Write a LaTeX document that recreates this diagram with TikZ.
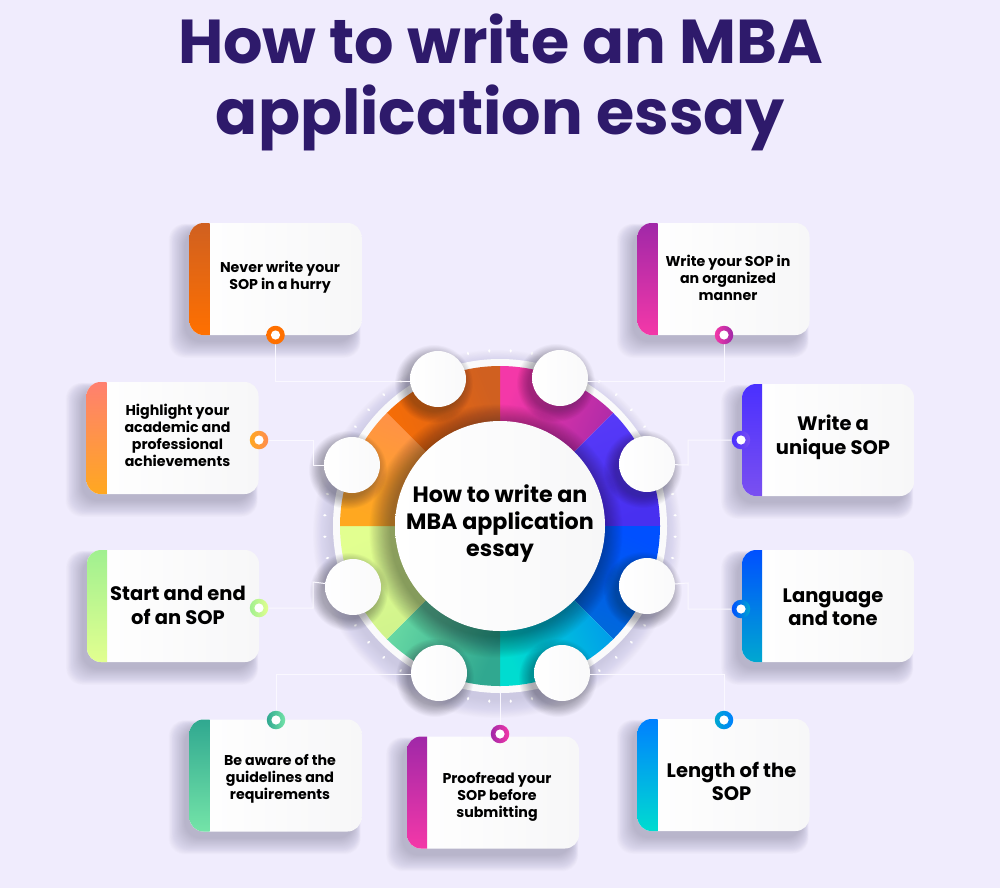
\documentclass[tikz,border=0pt]{standalone}
\usepackage{fontspec}
\setmainfont{Poppins}
\usetikzlibrary{calc}
\pgfdeclarelayer{bg}
\pgfdeclarelayer{conn}
\pgfsetlayers{bg,conn,main}
\definecolor{bgc}{HTML}{F0ECFD}
\definecolor{titlec}{HTML}{2E1A6B}
\definecolor{shc}{HTML}{5A5878}
\definecolor{cardr}{HTML}{F7F7F8}
\definecolor{linec}{HTML}{FAF8FF}
\definecolor{pinkA}{HTML}{F438A8}
\definecolor{purpA}{HTML}{A028A8}
\definecolor{vioA}{HTML}{5A3CFA}
\definecolor{vioB}{HTML}{4830F0}
\definecolor{bluA}{HTML}{0050FF}
\definecolor{bluB}{HTML}{0070D0}
\definecolor{skyA}{HTML}{0090F0}
\definecolor{tealA}{HTML}{00DCD0}
\definecolor{grnA}{HTML}{30A890}
\definecolor{grnB}{HTML}{74E4A8}
\definecolor{limA}{HTML}{CCF08C}
\definecolor{limB}{HTML}{E2FF90}
\definecolor{ambA}{HTML}{FFA820}
\definecolor{ambB}{HTML}{FF8C50}
\definecolor{orA}{HTML}{FF7000}
\definecolor{orB}{HTML}{D06020}
\definecolor{salA}{HTML}{FF8070}
\definecolor{limC}{HTML}{A0F090}
\definecolor{bluC}{HTML}{0080FF}
\definecolor{vioC}{HTML}{7A50F0}
\definecolor{vioD}{HTML}{4A30FF}
\definecolor{tealB}{HTML}{00A8D0}
\tikzset{
  titletxt/.style={font=\fontsize{62}{71}\selectfont\bfseries, text=titlec, align=center, inner sep=0pt},
  smalltxt/.style={font=\fontsize{14.2}{17}\selectfont\bfseries, text=black, align=center, inner sep=0pt},
  bigtxt/.style={font=\fontsize{19.5}{23.5}\selectfont\bfseries, text=black, align=center, inner sep=0pt},
  hubtxt/.style={font=\fontsize{22.2}{27}\selectfont\bfseries, text=black, align=center, inner sep=0pt},
  cardbox/.style={rectangle, rounded corners=14pt, minimum width=172pt, minimum height=112pt, inner sep=0pt, left color=white, right color=cardr},
  disc/.style={circle, minimum size=56pt, inner sep=0pt, left color=white, right color=cardr!70!white},
  pin/.style={circle, minimum size=18.5pt, inner sep=0pt},
  conn/.style={draw=linec, line width=1pt},
}
% name, cx, cy, strip top, strip bottom
\newcommand\cardat[5]{%
  \begin{pgfonlayer}{bg}
    \foreach \i in {1,...,24}{
      \fill[shc, opacity=.015, rounded corners=16pt]
        ({#2-86-4-.7*\i},{#3-56+8-.3*\i}) rectangle ({#2+86-8+.3*\i},{#3+56+6+.7*\i});
    }
  \end{pgfonlayer}
  \node[cardbox, path picture={\shade[sharp corners, top color=#4, bottom color=#5]
     (path picture bounding box.south west) rectangle ([xshift=20pt]path picture bounding box.north west);}]
     (#1) at (#2,#3) {};
}
% name, x, y, colour a, colour b
\newcommand\pinat[5]{%
  \node[pin, left color=#4, right color=#5] (#1) at (#2,#3) {};
  \fill[white] (#1.center) circle (4.6);
}
% name, x, y
\newcommand\discat[3]{%
  \begin{pgfonlayer}{bg}
    \foreach \i in {1,...,20}{
      \fill[black!60!shc, opacity=.02] ({#2-4},{#3+5}) circle ({27+.6*\i});
    }
  \end{pgfonlayer}
  \node[disc] (#1) at (#2,#3) {};
}
% start angle, colour a, colour b
\newcommand\wedgeat[3]{%
  \pgfmathsetmacro\sa{#1-202.5}
  \path[bottom color=#2, top color=#3, shading angle=\sa]
    (500,526) -- ++({-(#1)}:160) arc[start angle={-(#1)}, end angle={-(#1)+45}, radius=160] -- cycle;
}
\begin{document}
\begin{tikzpicture}[x=1pt,y=-1pt]
\useasboundingbox (0,0) rectangle (1000,888);
\begin{pgfonlayer}{bg}
  \fill[bgc] (0,0) rectangle (1000,888);
  % ring shadow
  \foreach \i in {1,...,24}{
    \fill[shc, opacity=.009] (497,534) circle ({165+.8*\i});
  }
  % ticks
  \foreach \c in {0,45,...,315}{
    \foreach \o in {-10.5,-3.5,3.5,10.5}{
      \fill[white, rotate around={-(\c+\o):(500,526)}] (675.5,526) ellipse (1.8 and 1.2);
    }
  }
  % white ring
  \fill[white!97!shc] (500,526) circle (167);
  % coloured wedges
  \wedgeat{90}{pinkA}{purpA}
  \wedgeat{45}{vioA}{vioB}
  \wedgeat{0}{bluA}{bluB}
  \wedgeat{-45}{skyA}{tealA}
  \wedgeat{-90}{grnA}{grnB}
  \wedgeat{-135}{limA}{limB}
  \wedgeat{180}{ambA}{ambB}
  \wedgeat{135}{orA}{orB}
  % hub shadow
  \foreach \i in {1,...,24}{
    \fill[black!70!shc, opacity=.02] (496,531) circle ({105+.9*\i});
  }
\end{pgfonlayer}

% hub
\node[circle, minimum size=210pt, inner sep=0pt, left color=white, right color=cardr] (hub) at (500,526) {};
\node[hubtxt] (hubt) at (500,524) {How to write an\\MBA application\\essay};

% title
\node[titletxt] (title) at (500.5,82) {How to write an MBA\\application essay};

% satellites
\discat{c1}{438}{379}
\discat{c2}{352}{465}
\discat{c3}{353}{587}
\discat{c4}{439}{673}
\discat{c5}{562}{673}
\discat{c6}{647}{586}
\discat{c7}{647}{464}
\discat{c8}{560}{378}

% cards
\cardat{k1}{275.5}{279}{orB}{orA}
\cardat{k2}{172.5}{438}{salA}{ambA}
\cardat{k3}{173}{606}{limC}{limB}
\cardat{k4}{275.5}{775.5}{grnA}{grnB}
\cardat{k5}{493}{792.5}{purpA}{pinkA}
\cardat{k6}{723.5}{775}{bluC}{tealA}
\cardat{k7}{828}{606}{bluA}{tealB}
\cardat{k8}{828}{440}{vioD}{vioC}
\cardat{k9}{723.5}{279}{purpA}{pinkA}

% card texts
\node[smalltxt] (t1) at (280,277) {Never write your\\SOP in a hurry};
\node[smalltxt] (t2) at (177.5,435.5) {Highlight your\\academic and\\professional\\achievements};
\node[bigtxt]   (t3) at (178,605.5) {Start and end\\of an SOP};
\node[smalltxt] (t4) at (280,779) {Be aware of the\\guidelines and\\requirements};
\node[smalltxt] (t5) at (497,797) {Proofread your\\SOP before\\submitting};
\node[bigtxt]   (t6) at (731.5,781.5) {Length of the\\SOP};
\node[bigtxt]   (t7) at (833,607) {Language\\and tone};
\node[bigtxt]   (t8) at (833,437.5) {Write a\\unique SOP};
\node[smalltxt] (t9) at (728,278) {Write your SOP in\\an organized\\manner};

% pins
\pinat{d1}{275.5}{335}{orA}{orA}
\pinat{d2}{259}{440}{ambA}{ambB}
\pinat{d3}{259}{608}{limC}{limB}
\pinat{d4}{276}{720}{grnA}{grnB}
\pinat{d5}{500}{734}{purpA}{pinkA}
\pinat{d6}{724}{720}{tealB}{bluC}
\pinat{d7}{741}{609}{bluA}{tealB}
\pinat{d8}{741}{440}{vioD}{vioC}
\pinat{d9}{724}{335}{pinkA}{purpA}

% connectors
\coordinate (e1) at (438,381);
\coordinate (e2) at (313,465);
\coordinate (e3) at (313,582);
\coordinate (e4) at (439,674);
\coordinate (e5) at (500,690);
\coordinate (e6) at (562,674);
\coordinate (e7) at (688,583);
\coordinate (e8) at (688,465);
\coordinate (e9) at (560,381);
\begin{pgfonlayer}{conn}
  \draw[conn] (d1) |- (e1);
  \draw[conn] (d2) -| (e2) -- (c2);
  \draw[conn] (d3) -| (e3) -- (c3);
  \draw[conn] (d4) |- (e4);
  \draw[conn] (d5) -- (e5);
  \draw[conn] (d6) |- (e6);
  \draw[conn] (d7) -| (e7) -- (c6);
  \draw[conn] (d8) -| (e8) -- (c7);
  \draw[conn] (d9) |- (e9);
\end{pgfonlayer}
\end{tikzpicture}
\end{document}
